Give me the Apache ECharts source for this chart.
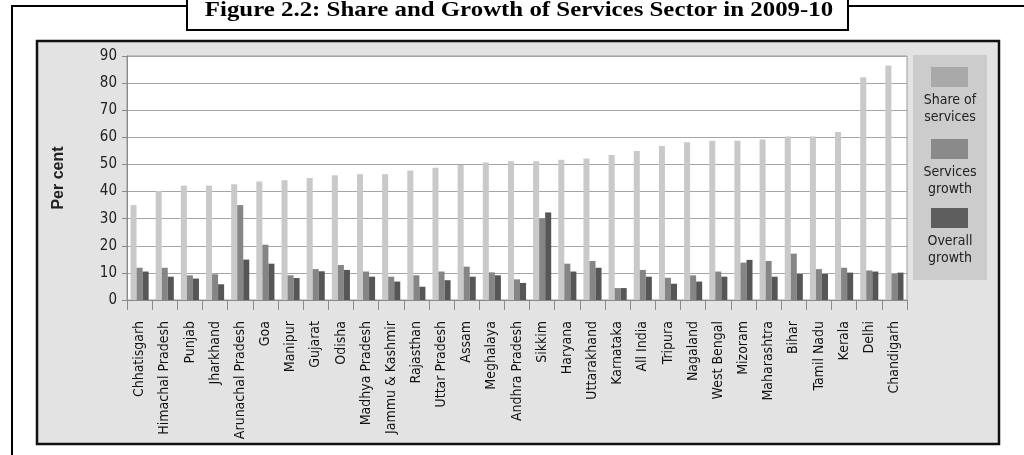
<!DOCTYPE html>
<html>
<head>
<meta charset="utf-8">
<script src="https://cdn.jsdelivr.net/npm/echarts@6/dist/echarts.min.js"></script>
<style>html,body{margin:0;padding:0;background:#fff;}#c{width:1024px;height:455px;}</style>
</head>
<body>
<div id="c"></div>
<script>
var categories = ["Chhatisgarh","Himachal Pradesh","Punjab","Jharkhand","Arunachal Pradesh","Goa","Manipur","Gujarat","Odisha","Madhya Pradesh","Jammu & Kashmir","Rajasthan","Uttar Pradesh","Assam","Meghalaya","Andhra Pradesh","Sikkim","Haryana","Uttarakhand","Karnataka","All India","Tripura","Nagaland","West Bengal","Mizoram","Maharashtra","Bihar","Tamil Nadu","Kerala","Delhi","Chandigarh"];
var shareOfServices = [35.0,40.2,42.2,42.2,42.7,43.7,44.2,45.0,46.0,46.4,46.4,47.8,48.8,49.8,50.7,51.2,51.2,51.7,52.2,53.5,55.0,56.8,58.2,58.7,58.7,59.2,60.3,60.3,62.0,82.2,86.5];
var servicesGrowth = [11.9,11.9,9.1,9.5,35.0,20.4,9.1,11.4,12.9,10.5,8.6,9.1,10.5,12.3,10.2,7.6,30.1,13.4,14.4,4.4,11.1,8.2,9.1,10.5,13.8,14.4,17.1,11.4,11.9,10.9,9.6];
var overallGrowth = [10.5,8.6,7.9,5.8,14.9,13.4,8.1,10.6,11.1,8.6,6.8,4.9,7.3,8.6,9.1,6.3,32.3,10.5,11.9,4.4,8.6,6.0,6.8,8.6,14.8,8.6,9.6,9.6,10.1,10.5,10.1];
var seriesNames = ["Share of services","Services growth","Overall growth"];
var legendLabels = ["Share of\nservices","Services\ngrowth","Overall\ngrowth"];
var titleText = "Figure 2.2: Share and Growth of Services Sector in 2009-10";

var narrow = "'Liberation Sans Narrow','DejaVu Sans Condensed','Arial Narrow',sans-serif";
var barColors = ["#c9c9c9","#858585","#565656"];
var swatchColors = ["#a9a9a9","#8a8a8a","#5e5e5e"];

var chart = echarts.init(document.getElementById('c'), null, {renderer:'canvas'});

var graphics = [
  {type:'polyline', z:-20, shape:{points:[[12,470],[12,6],[1040,6]]}, style:{stroke:'#000', lineWidth:2, fill:null}},
  {type:'rect', z:-15, shape:{x:187,y:-5,width:661,height:35}, style:{fill:'#fff', stroke:'#000', lineWidth:2}},
  {type:'text', z:-14, x:519, y:10, scaleX:1.13, scaleY:1, style:{x:0, y:0, text:titleText, fill:'#000', font:"bold 22px 'Liberation Serif','DejaVu Serif',serif", textAlign:'center', textVerticalAlign:'middle'}},
  {type:'rect', z:-12, shape:{x:37,y:41,width:962,height:403}, style:{fill:'#e3e3e3', stroke:'#111', lineWidth:2.5}},
  {type:'rect', z:-11, shape:{x:913,y:55,width:74,height:225}, style:{fill:'#cccccc'}}
];
var swY = [67, 139, 208];
for (var i = 0; i < 3; i++) {
  graphics.push({type:'rect', z:-10, shape:{x:931,y:swY[i],width:37,height:20}, style:{fill:swatchColors[i]}});
  graphics.push({type:'text', z:-10, style:{x:950, y:swY[i]+42, text:legendLabels[i], fill:'#222', font:"14px " + narrow, textAlign:'center', textVerticalAlign:'middle', lineHeight:17}});
}

var dataSets = [shareOfServices, servicesGrowth, overallGrowth];
var series = dataSets.map(function(d, i){
  return {name:seriesNames[i], type:'bar', data:d, barGap:'0%', barCategoryGap:'28%', itemStyle:{color:barColors[i]}, silent:true};
});

chart.setOption({
  animation:false,
  backgroundColor:'#fff',
  graphic:graphics,
  grid:{left:127, right:117, top:56, bottom:155, show:true, backgroundColor:'#fff', borderColor:'#9a9a9a', borderWidth:1},
  xAxis:{
    type:'category', data:categories, offset:7, boundaryGap:true,
    axisLine:{show:true, lineStyle:{color:'#8a8a8a', width:1}},
    axisTick:{show:true, length:10, alignWithLabel:false, lineStyle:{color:'#8a8a8a'}},
    axisLabel:{rotate:90, interval:0, margin:14, color:'#111', fontSize:14, fontFamily:narrow},
    splitLine:{show:false}
  },
  yAxis:{
    type:'value', min:0, max:90, interval:10,
    name:'Per cent', nameLocation:'middle', nameRotate:90, nameGap:60,
    nameTextStyle:{fontWeight:'bold', fontSize:16, color:'#222', fontFamily:"'Liberation Sans',Arial,sans-serif"},
    axisLine:{show:true, lineStyle:{color:'#8a8a8a'}},
    axisTick:{show:true, length:5, lineStyle:{color:'#8a8a8a'}},
    axisLabel:{color:'#222', fontSize:15, margin:10, fontFamily:narrow},
    splitLine:{show:true, lineStyle:{color:'#a5a5a5', width:1}}
  },
  series:series
});
</script>
</body>
</html>
